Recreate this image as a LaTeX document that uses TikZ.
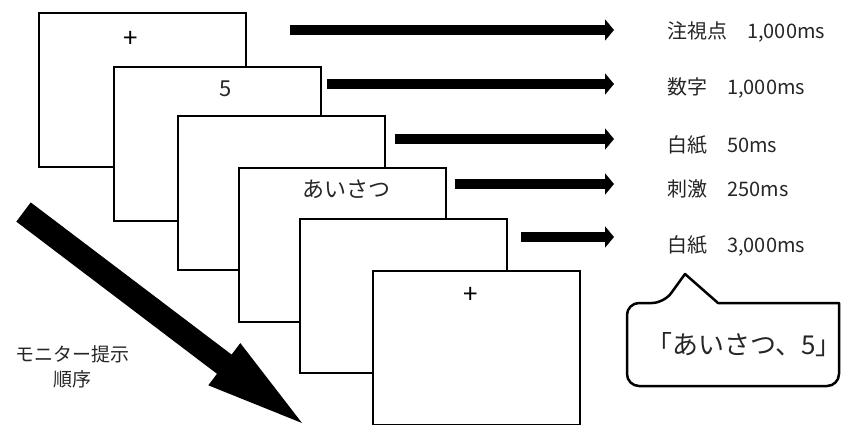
\documentclass[tikz,border=0pt]{standalone}
\usepackage{fontspec}
\newfontfamily\jp{Noto Sans CJK JP}
\usetikzlibrary{arrows.meta}
\definecolor{ink}{gray}{0.15}
\tikzset{
  screen/.style={draw=black, line width=1.8pt, fill=white, minimum width=207pt,
                 minimum height=154pt, inner sep=0pt, anchor=north west},
  step arrow/.style={line width=10.5pt, -{Triangle[width=21pt,length=9pt]}},
  timing/.style={anchor=west, inner sep=0pt, text=ink, font=\jp\fontsize{20pt}{24pt}\selectfont},
  onscreen/.style={inner sep=0pt, text=ink, font=\jp\fontsize{22pt}{26pt}\selectfont},
  fixcross/.style={inner sep=0pt, text=black, font=\jp\fontsize{26pt}{28pt}\selectfont},
}
\begin{document}
\begin{tikzpicture}[x=1pt, y=-1pt]
\useasboundingbox (0,0) rectangle (841,425);

% stacked monitor screens, front one last
\node[screen] (s1) at (38,12) {};
\node[fixcross] (plus1) at (131,39) {+};
\node[screen] (s2) at (113,66) {};
\node[onscreen] (digit) at (226,89) {5};
\node[screen] (s3) at (177,115) {};
\node[screen] (s4) at (238,167) {};
\node[onscreen] (word) at (346,189) {あいさつ};
\node[screen] (s5) at (299,218) {};
\node[screen] (s6) at (372,270) {};
\node[fixcross] (plus2) at (471,295) {+};

% durations
\node[timing] (t1) at (667,32) {注視点　1,000ms};
\node[timing] (t2) at (667,88) {数字　1,000ms};
\node[timing] (t3) at (667,145) {白紙　50ms};
\node[timing] (t4) at (667,189) {刺激　250ms};
\node[timing] (t5) at (667,246) {白紙　3,000ms};

% arrows from each screen to its duration
\coordinate (a1s) at (290,30);  \coordinate (a1e) at (614,30);
\coordinate (a2s) at (327,84);  \coordinate (a2e) at (614,84);
\coordinate (a3s) at (395,139); \coordinate (a3e) at (614,139);
\coordinate (a4s) at (455,184); \coordinate (a4e) at (614,184);
\coordinate (a5s) at (521,237); \coordinate (a5e) at (614,237);
\draw[step arrow] (a1s) -- (a1e);
\draw[step arrow] (a2s) -- (a2e);
\draw[step arrow] (a3s) -- (a3e);
\draw[step arrow] (a4s) -- (a4e);
\draw[step arrow] (a5s) -- (a5e);

% speech bubble with the response
\draw[line width=2.5pt, line join=round]
  (730,386) [rounded corners=12pt] -- (627,386) -- (627,303) -- (664,303)
  [sharp corners] -- (685,274) -- (718,303) -- (839,303)
  [rounded corners=12pt] -- (839,386) -- cycle;
\node[inner sep=0pt, text=ink, font=\jp\fontsize{26pt}{30pt}\selectfont] (answer) at (744,345) {「あいさつ、5」};

% presentation order arrow
\fill[black] (30.7,202.4) -- (231.6,354.6) -- (240.3,343.1) -- (302,423)
  -- (208.3,385.3) -- (217.0,373.8) -- (16.3,221.6) -- cycle;
\node[align=center, inner sep=0pt, text=ink, font=\jp\fontsize{19pt}{25pt}\selectfont] (order) at (73,367) {モニター提示\\順序};
\end{tikzpicture}
\end{document}
